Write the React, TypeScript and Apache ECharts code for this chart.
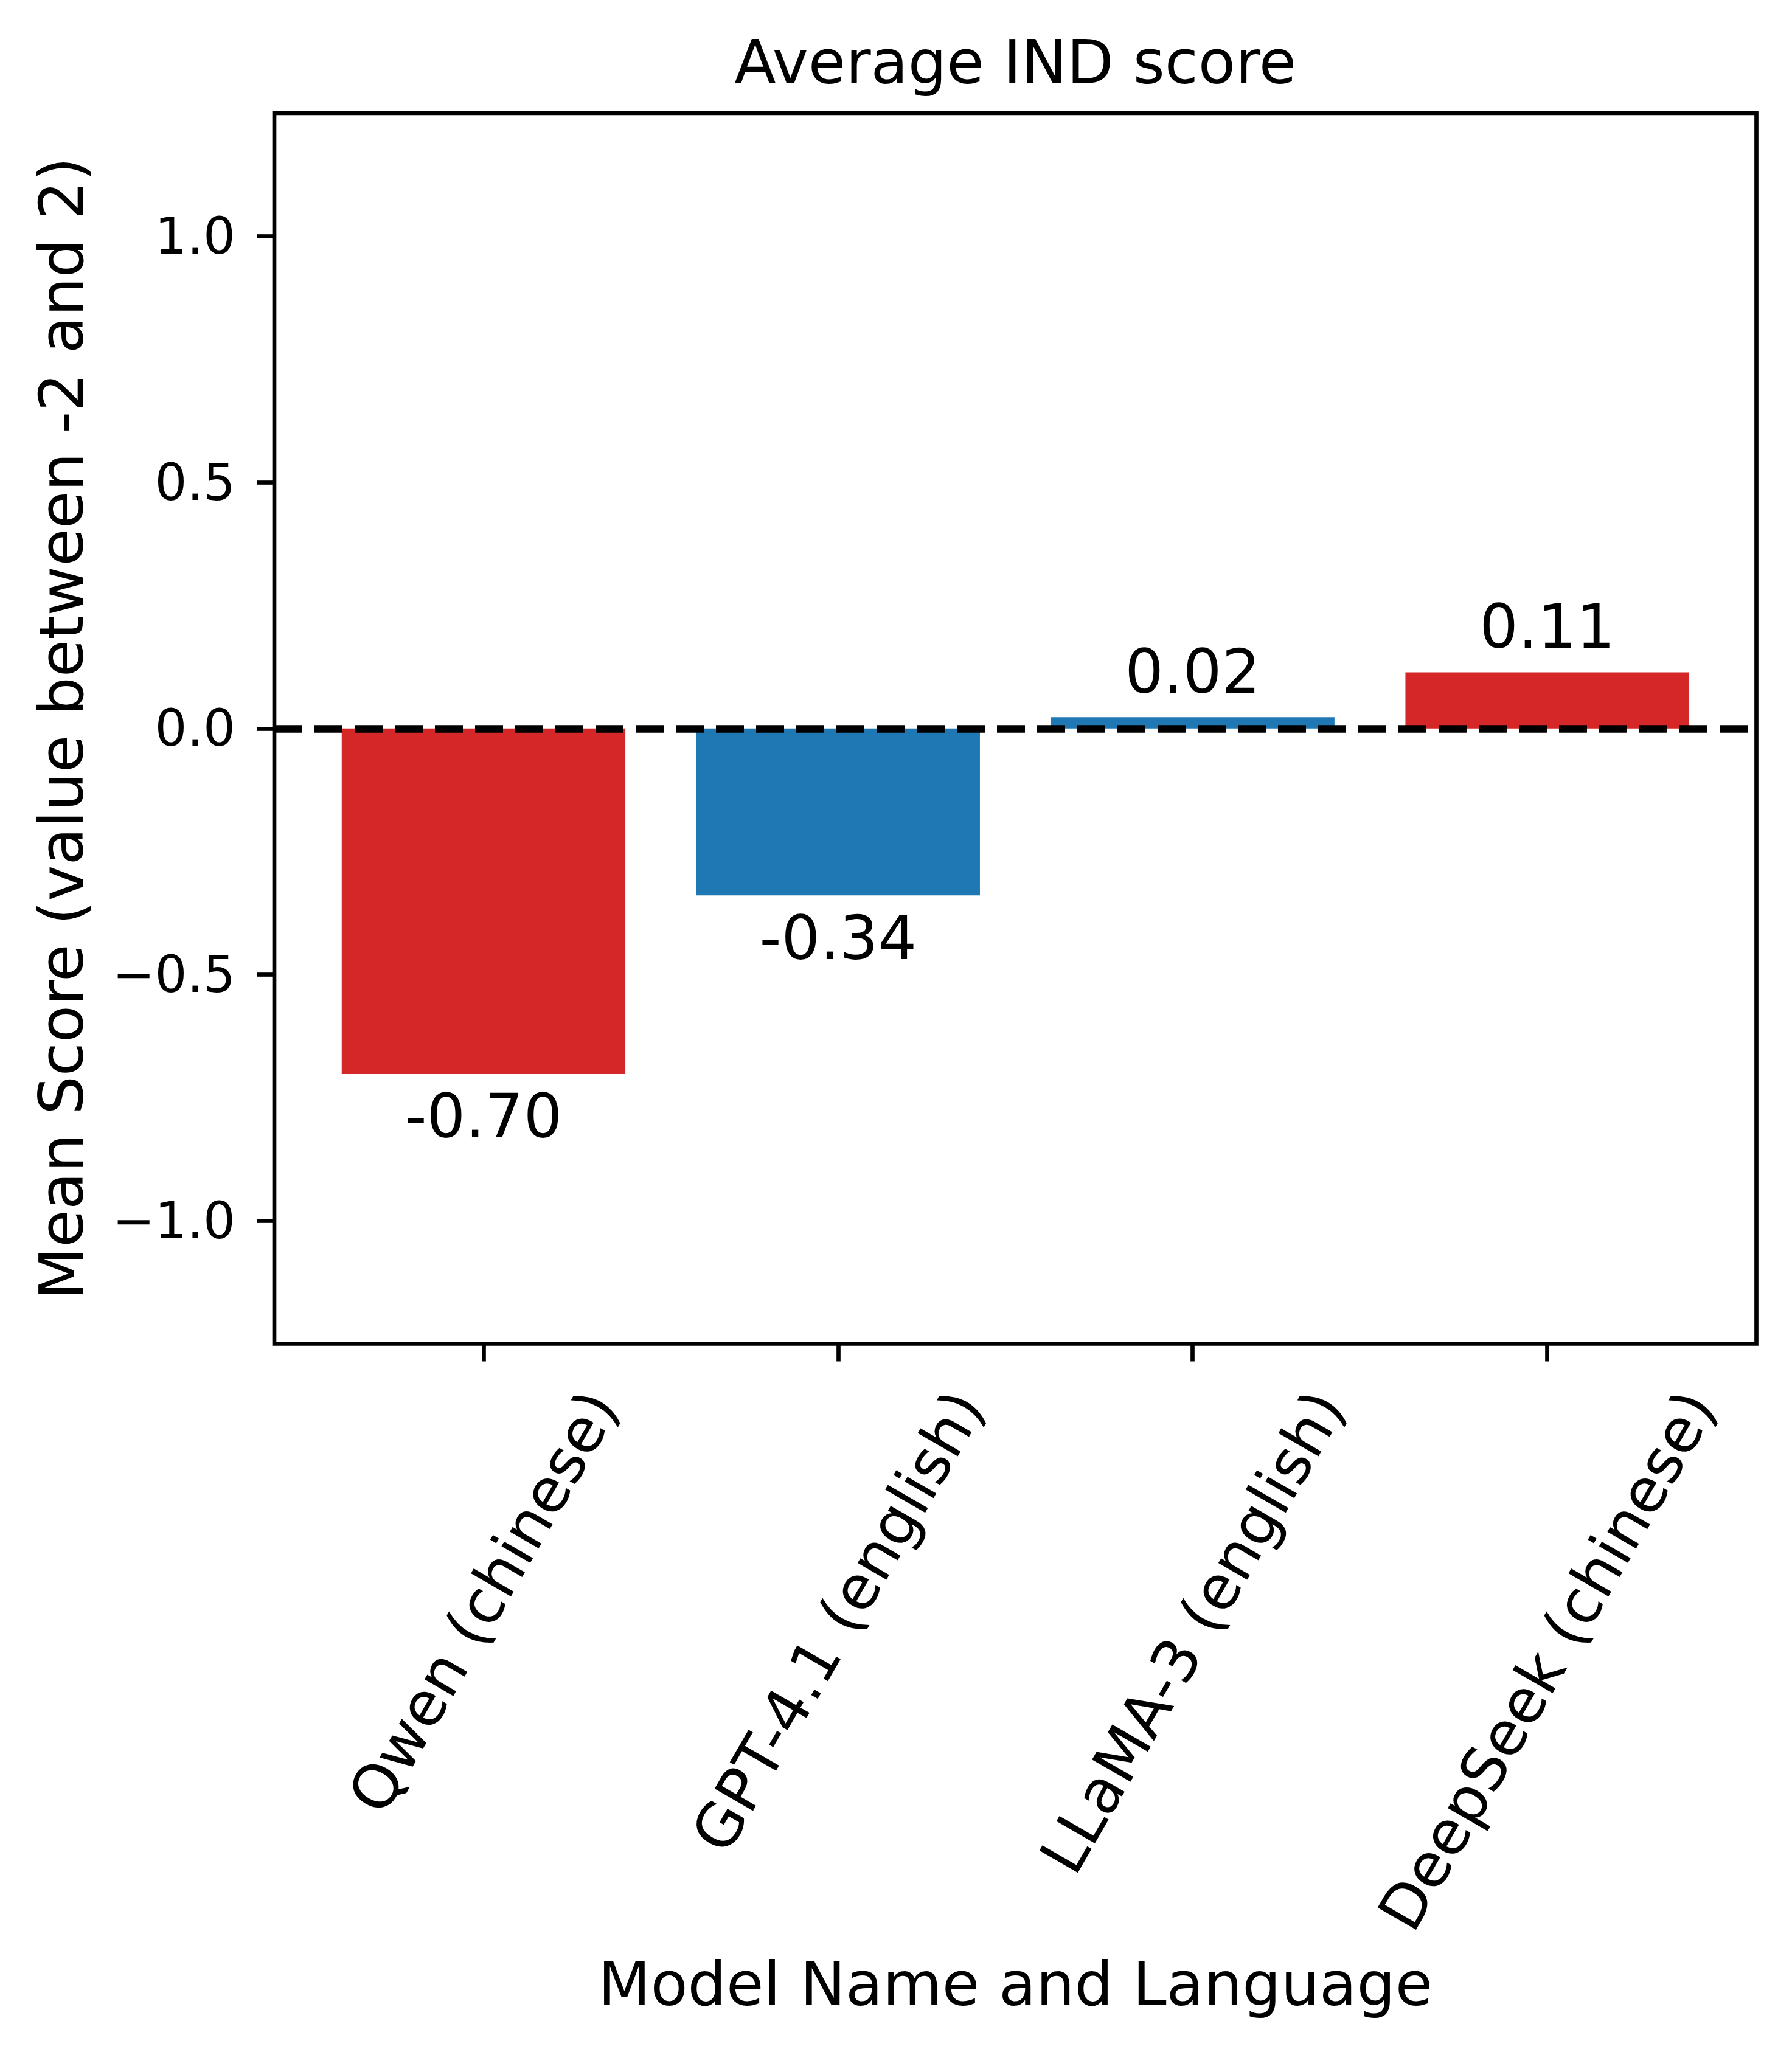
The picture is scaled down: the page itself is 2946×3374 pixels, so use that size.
import React, { useEffect, useRef } from "react";
import * as echarts from "echarts";

// ---- data ----
const categories = ["Qwen (chinese)", "GPT-4.1 (english)", "LLaMA-3 (english)", "DeepSeek (chinese)"];
const meanScores = [-0.702, -0.339, 0.023, 0.114];
const barColors = ["#d62728", "#1f77b4", "#1f77b4", "#d62728"];
const yTickValues = [-1, -0.5, 0, 0.5, 1];
const xTickValues = [0, 1, 2, 3];
const chartTitle = "Average IND score";
const xAxisTitle = "Model Name and Language";
const yAxisTitle = "Mean Score (value between -2 and 2)";

// ---- layout ----
const W = 2946;
const H = 3374;
const FONT = '"DejaVu Sans", sans-serif';
const GRID = { left: 451, right: 58.5, top: 186, bottom: 1164.5 };
const X_MIN = -0.59;
const X_MAX = 3.59;
const Y_MIN = -1.25;
const Y_MAX = 1.25;
const TICK_LEN = 29;
const LINE_W = 6.67;

function measure(text: string, size: number): number {
  const ctx = document.createElement("canvas").getContext("2d");
  if (!ctx) return text.length * size * 0.6;
  ctx.font = `${size}px "DejaVu Sans"`;
  return ctx.measureText(text).width;
}

export default function App() {
  const ref = useRef<HTMLDivElement>(null);

  useEffect(() => {
    if (!ref.current) return;
    const chart = echarts.init(ref.current, undefined, { renderer: "svg", width: W, height: H });

    const plotW = W - GRID.left - GRID.right;
    const plotCenterX = GRID.left + plotW / 2;
    const barWidth = (0.8 * plotW) / (X_MAX - X_MIN);

    // rotated x labels: emulate matplotlib's centered bounding box
    const sin60 = Math.sin(Math.PI / 3);
    const cos60 = 0.5;
    const lineH = 115;
    const widths = categories.map((c) => measure(c, 100));
    const wMin = Math.min(...widths);
    const hMin = wMin * sin60 + lineH * cos60;
    const xLabelMargin = TICK_LEN + 29 + hMin / 2;
    const rich: Record<string, any> = {};
    categories.forEach((c, i) => {
      const d = ((widths[i] - wMin) * sin60) / 2;
      rich["l" + i] = {
        fontSize: 100,
        fontFamily: FONT,
        color: "#000",
        padding: [d, 1.732 * d, 0, 0],
      };
    });

    const titleW = measure(chartTitle, 100);

    const fmtY = (v: number) => (v < 0 ? "\u2212" + Math.abs(v).toFixed(1) : v.toFixed(1));

    chart.setOption({
      animation: false,
      backgroundColor: "#ffffff",
      title: {
        text: chartTitle,
        left: plotCenterX - titleW / 2,
        top: 52,
        padding: 0,
        textStyle: { fontFamily: FONT, fontSize: 100, fontWeight: "normal", color: "#000" },
      },
      grid: {
        left: GRID.left,
        right: GRID.right,
        top: GRID.top,
        bottom: GRID.bottom,
        show: true,
        borderColor: "#000",
        borderWidth: LINE_W,
        backgroundColor: "transparent",
        containLabel: false,
      },
      xAxis: {
        type: "value",
        min: X_MIN,
        max: X_MAX,
        name: xAxisTitle,
        nameLocation: "middle",
        nameGap: 1003,
        nameTextStyle: { fontFamily: FONT, fontSize: 100, color: "#000" },
        axisLine: { show: false, onZero: false },
        splitLine: { show: false },
        axisTick: {
          show: true,
          inside: false,
          length: TICK_LEN,
          customValues: xTickValues,
          lineStyle: { color: "#000", width: LINE_W },
        },
        axisLabel: {
          show: true,
          customValues: xTickValues,
          rotate: 60,
          align: "center",
          verticalAlign: "middle",
          margin: xLabelMargin,
          fontFamily: FONT,
          fontSize: 100,
          color: "#000",
          formatter: (v: number) => {
            const i = Math.round(v);
            return "{l" + i + "|" + categories[i] + "}";
          },
          rich,
        },
      },
      yAxis: {
        type: "value",
        min: Y_MIN,
        max: Y_MAX,
        name: yAxisTitle,
        nameLocation: "middle",
        nameGap: 300,
        nameTextStyle: { fontFamily: FONT, fontSize: 100, color: "#000" },
        axisLine: { show: false, onZero: false },
        splitLine: { show: false },
        axisTick: {
          show: true,
          inside: false,
          length: TICK_LEN,
          customValues: yTickValues,
          lineStyle: { color: "#000", width: LINE_W },
        },
        axisLabel: {
          show: true,
          customValues: yTickValues,
          margin: 64,
          fontFamily: FONT,
          fontSize: 83.3,
          color: "#000",
          formatter: fmtY,
        },
      },
      series: [
        {
          type: "bar",
          barWidth,
          z: 2,
          data: meanScores.map((v, i) => ({
            value: [i, v],
            itemStyle: { color: barColors[i] },
            label: {
              position: v >= 0 ? "top" : "bottom",
              distance: v >= 0 ? 25 : 20,
            },
          })),
          label: {
            show: true,
            fontFamily: FONT,
            fontSize: 100,
            color: "#000",
            formatter: (p: any) => Number(p.value[1]).toFixed(2),
          },
          markLine: {
            silent: true,
            symbol: ["none", "none"],
            z: 10,
            label: { show: false },
            lineStyle: { color: "#000", width: 12.5, type: [46, 20] },
            data: [{ yAxis: 0 }],
          },
        },
      ],
    });

    return () => {
      chart.dispose();
    };
  }, []);

  return (
    <div
      ref={ref}
      style={{ position: "absolute", left: 0, top: 0, width: W, height: H, background: "#fff" }}
    />
  );
}
